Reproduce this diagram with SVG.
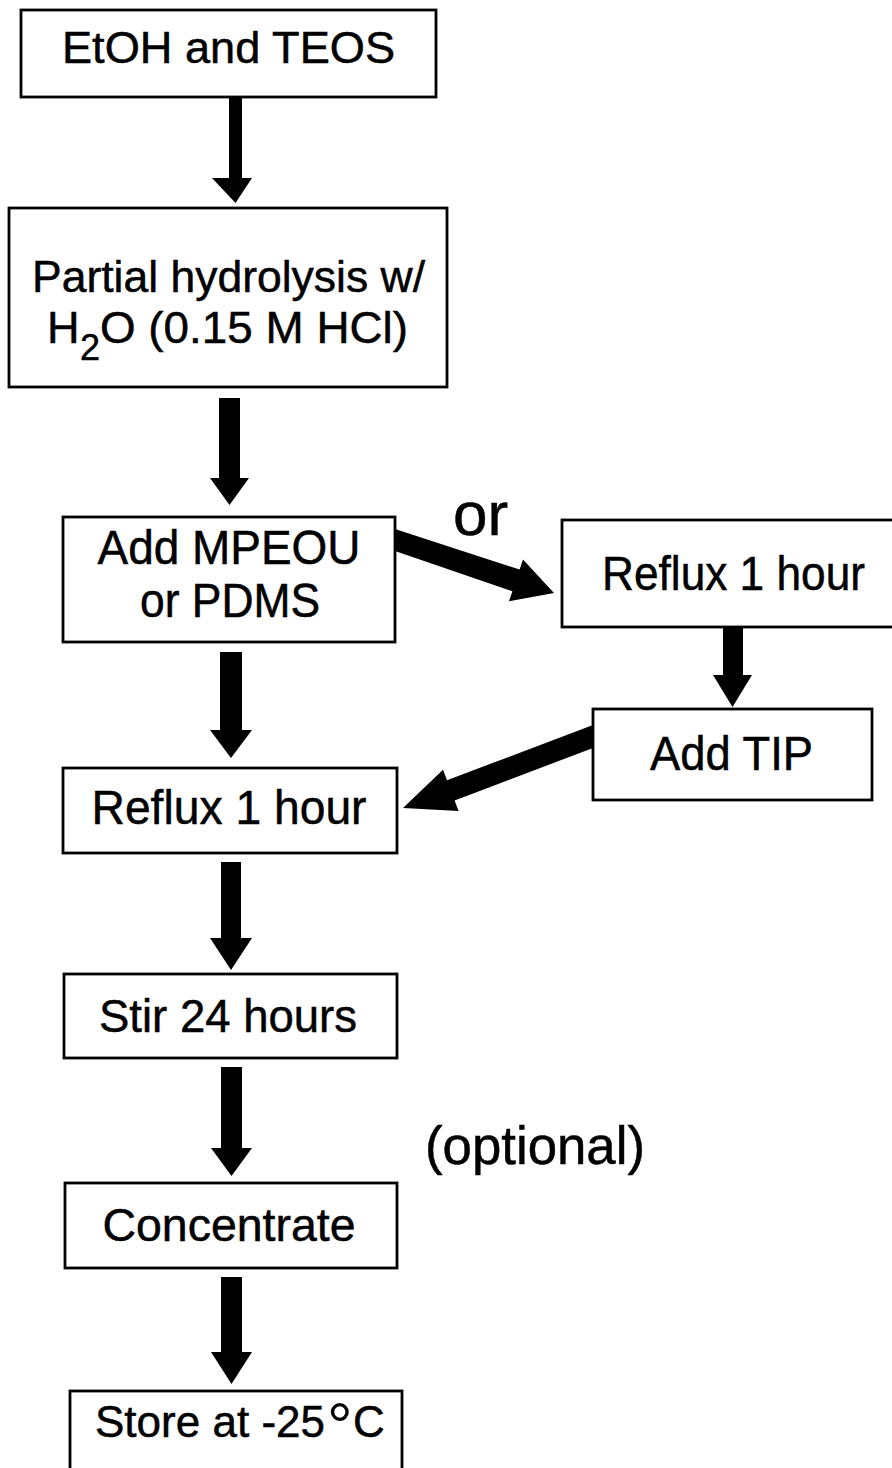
<svg xmlns="http://www.w3.org/2000/svg" width="892" height="1468" viewBox="0 0 892 1468">
<style>
.box{fill:#fff;stroke:#000;stroke-width:2.8}
.t{font-family:"Liberation Sans",Arial,sans-serif;fill:#000;stroke:#000;stroke-width:0.5;text-anchor:middle}
.s{font-family:"Liberation Sans",Arial,sans-serif;fill:#000;stroke:#000;stroke-width:0.5}
.arr{fill:#000;stroke:none}
</style>
<rect width="892" height="1468" fill="#fff"/>
<g id="n1"><rect class="box" x="21" y="10" width="415" height="87"/><text class="t" x="228.5" y="63" font-size="44" textLength="333" lengthAdjust="spacingAndGlyphs">EtOH and TEOS</text></g>
<g id="n2"><rect class="box" x="9" y="208" width="438" height="179"/><text class="t" x="228.5" y="292" font-size="45" textLength="393" lengthAdjust="spacingAndGlyphs">Partial hydrolysis w/</text><text class="s" font-size="45"><tspan x="47" y="343">H</tspan><tspan x="80" y="360" font-size="36">2</tspan><tspan x="100" y="343" textLength="308" lengthAdjust="spacingAndGlyphs">O (0.15 M HCl)</tspan></text></g>
<g id="n3"><rect class="box" x="63" y="517" width="332" height="125"/><text class="t" x="229" y="564" font-size="48" textLength="263" lengthAdjust="spacingAndGlyphs">Add MPEOU</text><text class="t" x="230" y="617" font-size="48" textLength="180" lengthAdjust="spacingAndGlyphs">or PDMS</text></g>
<g id="n4"><rect class="box" x="562" y="520" width="340" height="107"/><text class="t" x="733.5" y="590" font-size="48" textLength="263" lengthAdjust="spacingAndGlyphs">Reflux 1 hour</text></g>
<g id="n5"><rect class="box" x="593" y="709" width="279" height="91"/><text class="t" x="731.5" y="770" font-size="48" textLength="163" lengthAdjust="spacingAndGlyphs">Add TIP</text></g>
<g id="n6"><rect class="box" x="63" y="768" width="334" height="85"/><text class="t" x="229" y="824" font-size="48" textLength="275" lengthAdjust="spacingAndGlyphs">Reflux 1 hour</text></g>
<g id="n7"><rect class="box" x="64" y="974" width="333" height="84"/><text class="t" x="228" y="1032" font-size="47" textLength="258" lengthAdjust="spacingAndGlyphs">Stir 24 hours</text></g>
<g id="n8"><rect class="box" x="65" y="1183" width="332" height="85"/><text class="t" x="229" y="1241" font-size="47" textLength="253" lengthAdjust="spacingAndGlyphs">Concentrate</text></g>
<g id="n9"><rect class="box" x="70" y="1391" width="332" height="90"/><text class="s" y="1437" font-size="44"><tspan x="95" textLength="230" lengthAdjust="spacingAndGlyphs">Store at -25</tspan><tspan x="327" y="1448" font-size="64" stroke-width="0">°</tspan><tspan x="353" y="1437">C</tspan></text></g>
<g id="labels"><text class="s" x="453" y="535" font-size="62">or</text><text class="s" x="425" y="1164" font-size="53" textLength="220" lengthAdjust="spacingAndGlyphs">(optional)</text></g>
<g id="connectors">
<polygon class="arr" points="229,97 242,97 242,178 252,178 235.5,203 212,178 229,178"/>
<polygon class="arr" points="219,398 240,398 240,478 249,478 229.5,505 210,478 219,478"/>
<polygon class="arr" points="220,652 242,652 242,730 252,730 231,758 210,730 220,730"/>
<polygon class="arr" points="723,627 743,627 743,675 752,675 732.5,707 713,675 723,675"/>
<polygon class="arr" points="221,862 241,862 241,938 252,938 231,970 210,938 221,938"/>
<polygon class="arr" points="221,1067 242,1067 242,1148 252,1148 231.5,1176 211,1148 221,1148"/>
<polygon class="arr" points="221,1277 242,1277 242,1352 252,1352 231.5,1384 211,1352 221,1352"/>
<polygon class="arr" points="395,529 519.6,569.6 523,559.5 554,593 509,601.3 512.4,591.2 395,551"/>
<polygon class="arr" points="593,725 447,780.2 443,769.7 403,808 458.6,810.9 454.6,800.4 593,748"/>
</g>
</svg>
